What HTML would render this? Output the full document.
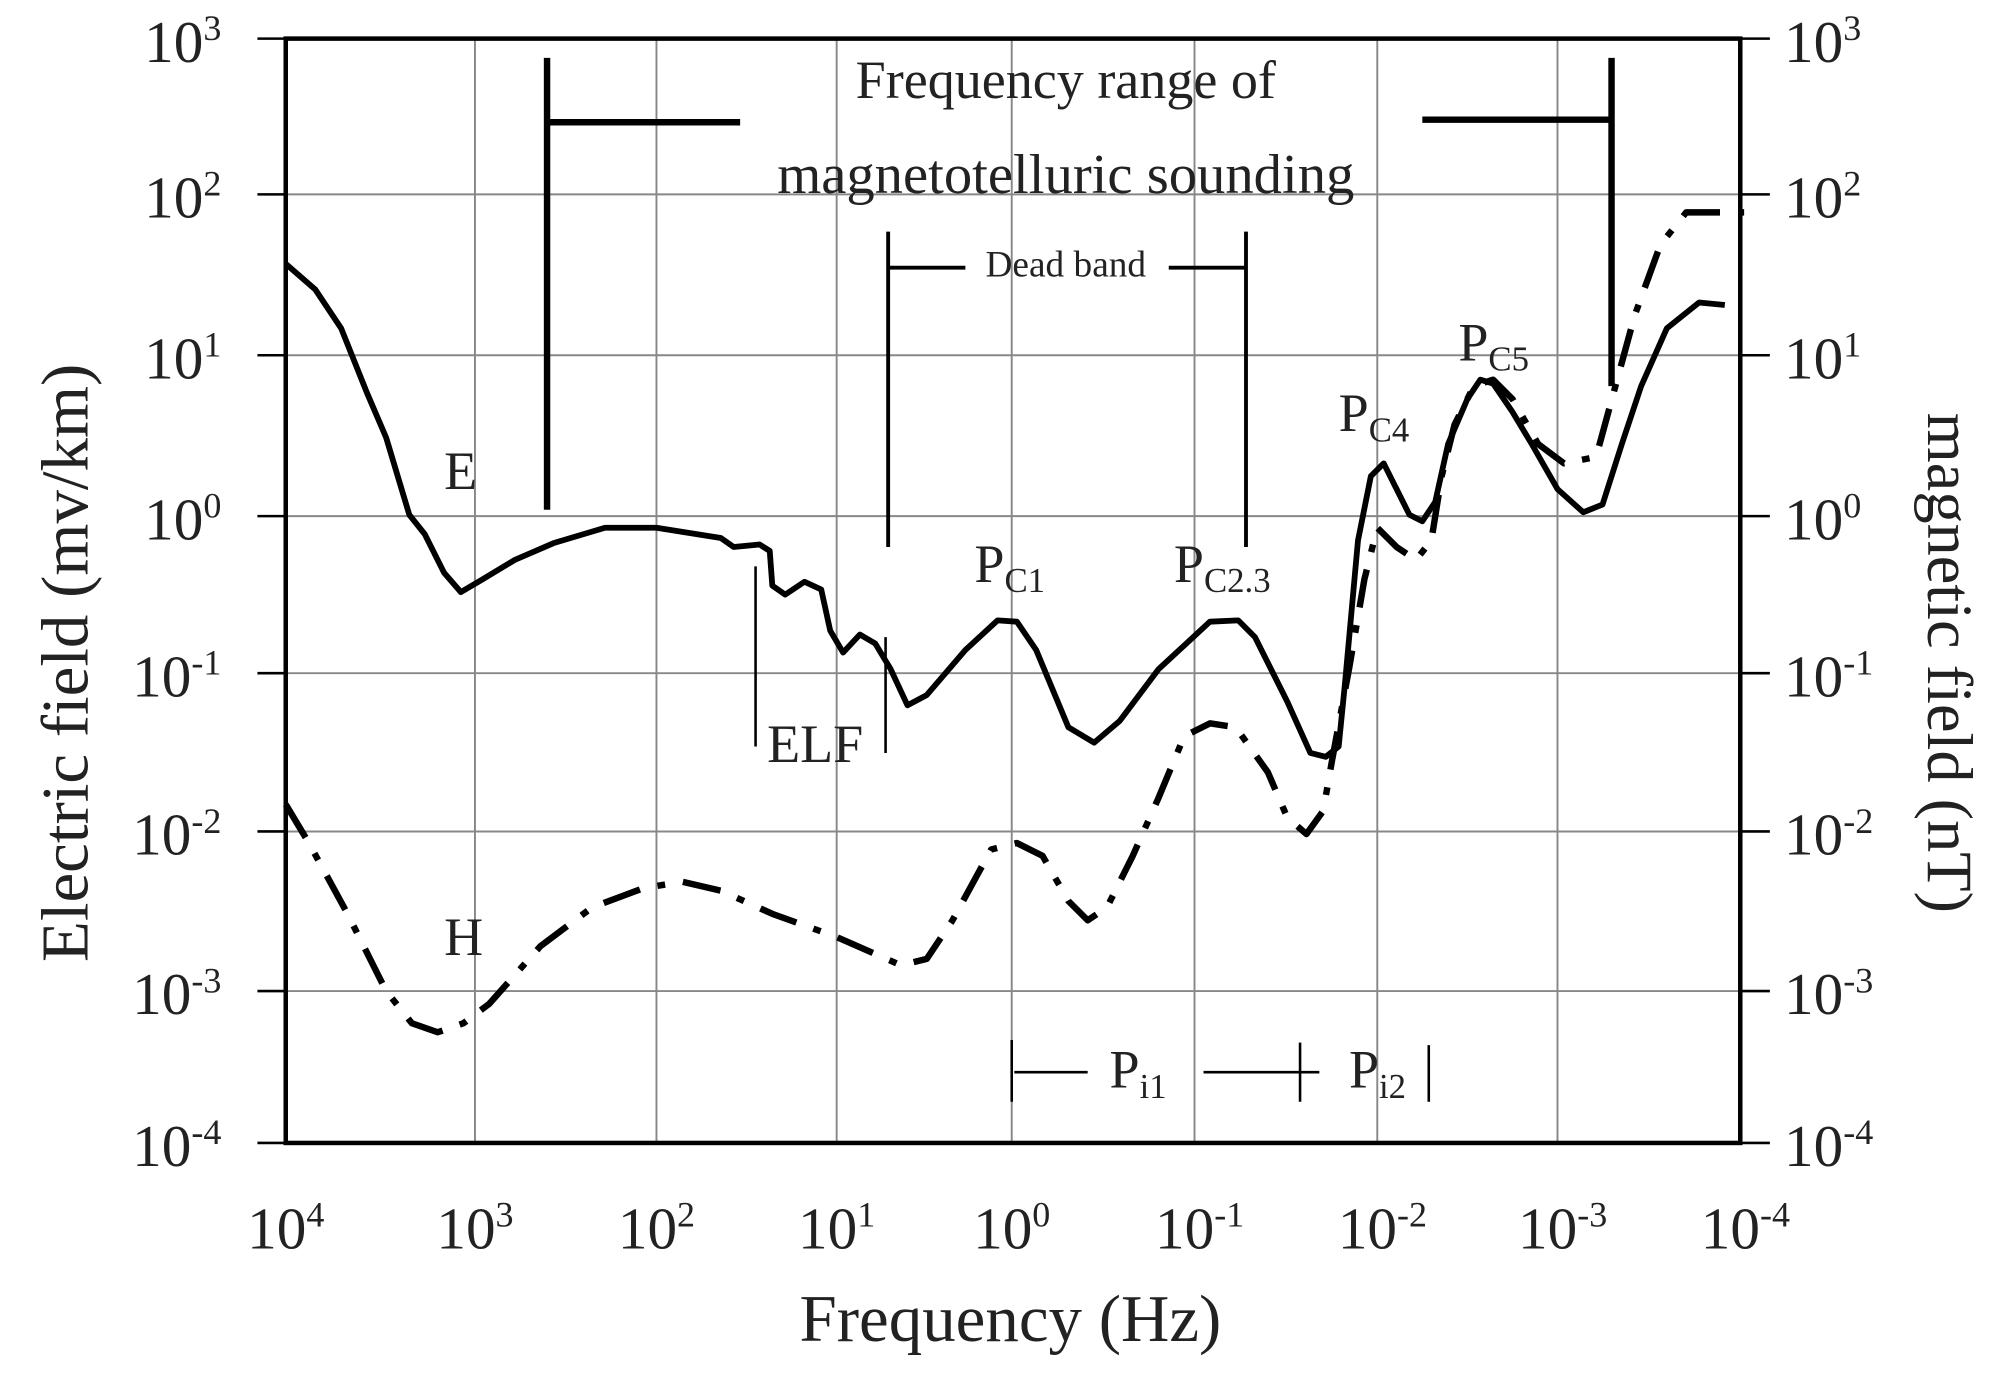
<!DOCTYPE html>
<html><head><style>html,body{margin:0;padding:0;background:#fff}svg{display:block}</style></head><body>
<svg width="2008" height="1396" viewBox="0 0 1560 1084.6" preserveAspectRatio="none" xmlns="http://www.w3.org/2000/svg" font-family="'Liberation Serif', serif">
<rect width="1560" height="1085" fill="#fff"/>
<g stroke="#888" stroke-width="1.5">
<line x1="369" y1="30" x2="369" y2="888"/><line x1="510" y1="30" x2="510" y2="888"/><line x1="650" y1="30" x2="650" y2="888"/><line x1="786" y1="30" x2="786" y2="888"/><line x1="928" y1="30" x2="928" y2="888"/><line x1="1070" y1="30" x2="1070" y2="888"/><line x1="1210" y1="30" x2="1210" y2="888"/>
<line x1="222" y1="151" x2="1352" y2="151"/><line x1="222" y1="276" x2="1352" y2="276"/><line x1="222" y1="401" x2="1352" y2="401"/><line x1="222" y1="523" x2="1352" y2="523"/><line x1="222" y1="646" x2="1352" y2="646"/><line x1="222" y1="770" x2="1352" y2="770"/>
</g>
<g stroke="#000" stroke-width="2">
<line x1="200" y1="30" x2="222" y2="30"/><line x1="200" y1="151" x2="222" y2="151"/><line x1="200" y1="276" x2="222" y2="276"/><line x1="200" y1="401" x2="222" y2="401"/><line x1="200" y1="523" x2="222" y2="523"/><line x1="200" y1="646" x2="222" y2="646"/><line x1="200" y1="770" x2="222" y2="770"/><line x1="200" y1="888" x2="222" y2="888"/>
<line x1="1352" y1="30" x2="1375" y2="30"/><line x1="1352" y1="151" x2="1375" y2="151"/><line x1="1352" y1="276" x2="1375" y2="276"/><line x1="1352" y1="401" x2="1375" y2="401"/><line x1="1352" y1="523" x2="1375" y2="523"/><line x1="1352" y1="646" x2="1375" y2="646"/><line x1="1352" y1="770" x2="1375" y2="770"/><line x1="1352" y1="888" x2="1375" y2="888"/>
</g>
<rect x="222" y="30" width="1130" height="858" fill="none" stroke="#000" stroke-width="3.5"/>
<g font-size="46" fill="#222" text-anchor="end">
<text x="172" y="48">10<tspan font-size="28" dy="-17">3</tspan></text>
<text x="172" y="169">10<tspan font-size="28" dy="-17">2</tspan></text>
<text x="172" y="294">10<tspan font-size="28" dy="-17">1</tspan></text>
<text x="172" y="419">10<tspan font-size="28" dy="-17">0</tspan></text>
<text x="172" y="541">10<tspan font-size="28" dy="-17">-1</tspan></text>
<text x="172" y="664">10<tspan font-size="28" dy="-17">-2</tspan></text>
<text x="172" y="788">10<tspan font-size="28" dy="-17">-3</tspan></text>
<text x="172" y="906">10<tspan font-size="28" dy="-17">-4</tspan></text>
</g>
<g font-size="46" fill="#222">
<text x="1386" y="48">10<tspan font-size="28" dy="-17">3</tspan></text>
<text x="1386" y="169">10<tspan font-size="28" dy="-17">2</tspan></text>
<text x="1386" y="294">10<tspan font-size="28" dy="-17">1</tspan></text>
<text x="1386" y="419">10<tspan font-size="28" dy="-17">0</tspan></text>
<text x="1386" y="541">10<tspan font-size="28" dy="-17">-1</tspan></text>
<text x="1386" y="664">10<tspan font-size="28" dy="-17">-2</tspan></text>
<text x="1386" y="788">10<tspan font-size="28" dy="-17">-3</tspan></text>
<text x="1386" y="906">10<tspan font-size="28" dy="-17">-4</tspan></text>
</g>
<g font-size="46" fill="#222" text-anchor="middle">
<text x="222" y="970">10<tspan font-size="28" dy="-17">4</tspan></text>
<text x="369" y="970">10<tspan font-size="28" dy="-17">3</tspan></text>
<text x="510" y="970">10<tspan font-size="28" dy="-17">2</tspan></text>
<text x="650" y="970">10<tspan font-size="28" dy="-17">1</tspan></text>
<text x="786" y="970">10<tspan font-size="28" dy="-17">0</tspan></text>
<text x="932" y="970">10<tspan font-size="28" dy="-17">-1</tspan></text>
<text x="1074" y="970">10<tspan font-size="28" dy="-17">-2</tspan></text>
<text x="1214" y="970">10<tspan font-size="28" dy="-17">-3</tspan></text>
<text x="1356" y="970">10<tspan font-size="28" dy="-17">-4</tspan></text>
<text x="785" y="1042" font-size="52">Frequency (Hz)</text>
<text transform="translate(68,515) rotate(-90)" font-size="52">Electric field (mv/km)</text>
<text transform="translate(1498,515) rotate(90)" font-size="50">magnetic field (nT)</text>
<text x="828" y="76" font-size="42">Frequency range of</text>
<text x="828" y="150" font-size="44">magnetotelluric sounding</text>
<text x="828" y="215" font-size="29">Dead band</text>
</g>
<g stroke="#000" fill="none">
<line x1="425" y1="45" x2="425" y2="396" stroke-width="5"/>
<line x1="425" y1="95" x2="575" y2="95" stroke-width="5"/>
<line x1="1252" y1="45" x2="1252" y2="300" stroke-width="5"/>
<line x1="1105" y1="93" x2="1252" y2="93" stroke-width="5"/>
<line x1="690" y1="180" x2="690" y2="425" stroke-width="3"/>
<line x1="690" y1="208" x2="750" y2="208" stroke-width="3"/>
<line x1="908" y1="208" x2="968" y2="208" stroke-width="3"/>
<line x1="968" y1="180" x2="968" y2="425" stroke-width="3"/>
<line x1="587" y1="440" x2="587" y2="580" stroke-width="2"/>
<line x1="688" y1="495" x2="688" y2="585" stroke-width="2"/>
<line x1="786" y1="808" x2="786" y2="856" stroke-width="2"/>
<line x1="788" y1="833" x2="845" y2="833" stroke-width="2"/>
<line x1="935" y1="833" x2="1025" y2="833" stroke-width="2"/>
<line x1="1010" y1="810" x2="1010" y2="856" stroke-width="2"/>
<line x1="1110" y1="812" x2="1110" y2="856" stroke-width="2"/>
</g>
<g font-size="42" fill="#222">
<text x="345" y="380">E</text>
<text x="345" y="742">H</text>
<text x="596" y="592">ELF</text>
<text x="757" y="452">P<tspan font-size="27" dy="8">C1</tspan></text>
<text x="912" y="452">P<tspan font-size="27" dy="8">C2.3</tspan></text>
<text x="1040" y="335">P<tspan font-size="27" dy="8">C4</tspan></text>
<text x="1133" y="280">P<tspan font-size="27" dy="8">C5</tspan></text>
<text x="862" y="845">P<tspan font-size="27" dy="8">i1</tspan></text>
<text x="1048" y="845">P<tspan font-size="27" dy="8">i2</tspan></text>
</g>
<path fill="none" stroke="#000" stroke-width="4.5" stroke-linejoin="round" d="M222,205 L245,225 L265,255 L285,305 L300,340 L318,400 L330,415 L345,445 L358,460 L375,450 L400,435 L430,422 L470,410 L510,410 L560,418 L570,425 L590,423 L598,428 L600,455 L610,462 L625,452 L638,458 L645,490 L655,507 L668,493 L680,500 L692,520 L705,548 L720,540 L750,505 L775,482 L790,483 L805,505 L830,565 L850,577 L870,560 L900,520 L940,483 L962,482 L975,495 L1000,545 L1018,585 L1030,588 L1040,580 L1045,530 L1055,420 L1065,370 L1075,360 L1085,380 L1095,400 L1105,405 L1115,390 L1125,345 L1140,310 L1150,295 L1160,298 L1175,320 L1190,345 L1210,380 L1230,398 L1245,392 L1260,345 L1275,300 L1295,255 L1320,235 L1340,237"/>
<path fill="none" stroke="#000" stroke-width="5" stroke-dasharray="30,14,6,14" stroke-linejoin="round" d="M222,625 L240,655 L270,710 L300,770 L320,795 L340,802 L360,795 L380,780 L420,735 L460,705 L500,690 L530,685 L560,692 L600,710 L650,728 L700,750 L720,745 L740,715 L770,660 L790,655 L810,665 L830,700 L845,715 L860,705 L880,665 L900,620 L920,572 L940,562 L960,565 L985,600 L1000,635 L1015,648 L1028,630 L1035,590 L1048,520 L1060,450 L1070,410 L1085,425 L1100,435 L1112,420 L1120,370 L1130,330 L1145,300 L1160,295 L1175,310 L1195,345 L1215,360 L1240,355 L1255,300 L1270,245 L1290,190 L1310,165 L1335,165 L1355,165"/>
</svg>
</body></html>
